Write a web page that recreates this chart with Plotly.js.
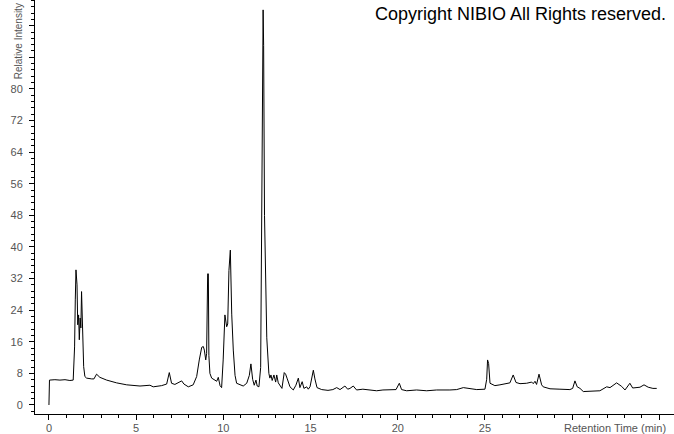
<!DOCTYPE html>
<html>
<head>
<meta charset="utf-8">
<script src="https://cdn.plot.ly/plotly-3.0.1.min.js"></script>
<style>
html,body{margin:0;padding:0;background:#fff;}
#chart{width:674px;height:434px;}
</style>
</head>
<body>
<div id="chart"></div>
<script>
// Retention time (min)
const retentionTime = [
  0.00, 0.03, 0.34, 0.63, 0.92, 1.20, 1.39, 1.43, 1.47, 1.51, 1.55, 1.61, 1.65, 1.70, 1.74, 1.79, 1.83, 1.87, 1.93, 1.99,
  2.06, 2.16, 2.45, 2.58, 2.73, 2.92, 3.31, 3.88, 4.46, 5.22, 5.79, 5.98, 6.46, 6.75, 6.90, 7.03, 7.22, 7.41, 7.61, 7.74,
  7.99, 8.27, 8.47, 8.62, 8.76, 8.85, 8.91, 8.99, 9.04, 9.10, 9.14, 9.17, 9.23, 9.33, 9.46, 9.62, 9.71, 9.81, 9.90, 9.99,
  10.09, 10.19, 10.25, 10.32, 10.40, 10.48, 10.57, 10.67, 10.76, 10.95, 11.14, 11.34, 11.49, 11.58, 11.68, 11.77, 11.87, 11.94, 12.04, 12.14,
  12.21, 12.25, 12.28, 12.31, 12.36, 12.49, 12.61, 12.67, 12.73, 12.80, 12.90, 13.00, 13.06, 13.15, 13.25, 13.36, 13.49, 13.57, 13.65, 13.82,
  14.01, 14.16, 14.30, 14.39, 14.52, 14.62, 14.78, 14.87, 14.97, 15.16, 15.25, 15.37, 15.64, 16.00, 16.28, 16.50, 16.69, 16.97, 17.13, 17.26,
  17.45, 17.64, 18.00, 18.41, 18.79, 19.15, 19.55, 19.90, 20.09, 20.22, 20.51, 21.08, 21.66, 22.23, 22.99, 23.38, 23.76, 24.14, 24.53, 25.00,
  25.10, 25.15, 25.21, 25.29, 25.57, 25.86, 26.15, 26.43, 26.62, 26.78, 27.01, 27.39, 27.68, 27.77, 27.87, 27.96, 28.10, 28.25, 28.34, 28.73,
  29.30, 29.87, 30.03, 30.16, 30.29, 30.45, 30.64, 31.21, 31.59, 31.98, 32.17, 32.55, 32.84, 33.03, 33.31, 33.47, 33.89, 34.12, 34.36, 34.63,
  34.85
];
// Relative intensity (%)
const relativeIntensity = [
  0.0, 6.3, 6.4, 6.3, 6.4, 6.2, 6.3, 11.4, 14.7, 26.6, 34.2, 30.4, 20.3, 22.8, 16.5, 22.0, 19.5, 28.7, 18.2, 9.7,
  7.2, 6.8, 6.6, 6.6, 7.8, 7.0, 6.3, 5.6, 5.1, 4.8, 5.0, 4.6, 4.9, 5.3, 8.2, 5.5, 5.2, 5.6, 6.1, 5.3,
  4.6, 5.1, 7.2, 11.4, 14.6, 14.8, 13.9, 11.4, 13.0, 33.2, 33.2, 12.5, 8.0, 6.8, 6.4, 6.0, 7.0, 4.9, 4.4, 11.4,
  22.8, 19.8, 20.5, 34.0, 39.2, 23.0, 13.9, 7.5, 5.5, 5.1, 4.8, 5.5, 7.5, 10.4, 6.5, 5.0, 6.3, 4.8, 4.6, 9.5,
  48.0, 82.0, 100.0, 91.0, 48.0, 17.0, 8.0, 6.8, 7.6, 6.2, 7.6, 5.8, 7.6, 5.6, 4.8, 4.2, 8.2, 7.8, 6.8, 4.6,
  3.8, 5.0, 6.8, 4.4, 5.9, 4.2, 4.6, 4.0, 4.6, 8.8, 6.6, 4.4, 3.9, 3.7, 3.9, 4.4, 3.9, 4.8, 4.0, 4.2,
  4.8, 3.8, 4.0, 3.8, 3.6, 3.8, 3.8, 3.9, 5.5, 3.9, 3.6, 3.8, 3.6, 3.8, 3.8, 3.9, 4.4, 4.1, 3.9, 4.0,
  6.5, 11.4, 10.5, 5.5, 4.9, 5.1, 5.3, 5.6, 7.6, 5.7, 5.4, 5.5, 5.8, 5.4, 6.0, 5.2, 7.8, 5.1, 4.6, 4.1,
  4.0, 3.9, 4.2, 6.1, 4.6, 4.2, 3.4, 3.6, 3.6, 4.6, 4.4, 5.6, 4.7, 3.8, 5.5, 4.3, 4.5, 5.1, 4.5, 4.2,
  4.2
];
const xTickVals = [0, 5, 10, 15, 20, 25, 30, 35];
const xTickText = ['0', '5', '10', '15', '20', '25', '', ''];
const yTickVals = [0, 8, 16, 24, 32, 40, 48, 56, 64, 72, 80, 88, 96];
const yTickText = ['0', '8', '16', '24', '32', '40', '48', '56', '64', '72', '80', '', ''];

const tickFont = {family: 'Liberation Sans, Arial, sans-serif', size: 11, color: '#555'};

const trace = {
  x: retentionTime,
  y: relativeIntensity,
  type: 'scatter',
  mode: 'lines',
  line: {color: '#000', width: 1, shape: 'linear'},
  hoverinfo: 'skip'
};

const layout = {
  width: 674,
  height: 434,
  margin: {l: 35, r: 0, t: 0, b: 20, pad: 0},
  paper_bgcolor: '#fff',
  plot_bgcolor: '#fff',
  showlegend: false,
  xaxis: {
    range: [-0.8, 35.84],
    showgrid: false, zeroline: false,
    showline: true, linecolor: '#000', linewidth: 1,
    ticks: 'outside', ticklen: 5, tickcolor: '#000', tickwidth: 1,
    tickmode: 'array', tickvals: xTickVals, ticktext: xTickText,
    tickfont: tickFont,
    ticklabelstandoff: -1,
    minor: {dtick: 1, tick0: 0, ticks: 'outside', ticklen: 3, tickcolor: '#000', showgrid: false}
  },
  yaxis: {
    range: [-2.28, 102.5],
    showgrid: false, zeroline: false,
    showline: true, linecolor: '#000', linewidth: 1,
    ticks: 'outside', ticklen: 5, tickcolor: '#000', tickwidth: 1,
    tickmode: 'array', tickvals: yTickVals, ticktext: yTickText,
    tickfont: tickFont,
    ticklabelstandoff: 4,
    minor: {dtick: 1.6, tick0: 0, ticks: 'outside', ticklen: 3, tickcolor: '#000', showgrid: false}
  },
  annotations: [
    {
      text: 'Copyright NIBIO All Rights reserved.',
      xref: 'paper', yref: 'paper', x: 0.9906, y: 0.966,
      xanchor: 'right', yanchor: 'middle', showarrow: false,
      font: {family: 'Liberation Sans, Arial, sans-serif', size: 18, color: '#000'}
    },
    {
      text: 'Retention Time (min)',
      xref: 'paper', yref: 'paper', x: 0.9906, y: -0.034,
      xanchor: 'right', yanchor: 'middle', showarrow: false,
      font: {family: 'Liberation Sans, Arial, sans-serif', size: 11, color: '#555'}
    },
    {
      text: 'Relative Intensity',
      xref: 'paper', yref: 'paper', x: -0.0266, y: 0.997,
      xanchor: 'center', yanchor: 'top', showarrow: false, textangle: -90,
      font: {family: 'Liberation Sans, Arial, sans-serif', size: 10, color: '#555'}
    }
  ]
};

Plotly.newPlot('chart', [trace], layout, {staticPlot: true, displayModeBar: false});
</script>
</body>
</html>
